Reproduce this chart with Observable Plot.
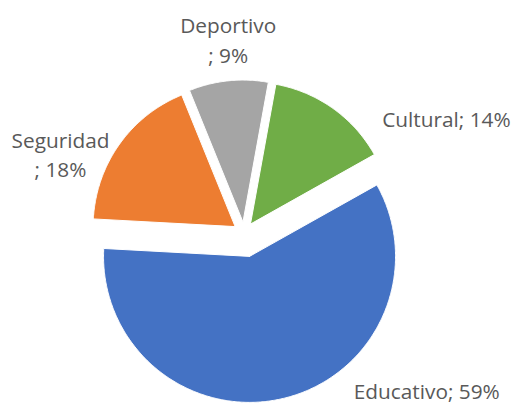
<!DOCTYPE html>
<html>
<head>
<meta charset="utf-8">
<script src="https://cdn.jsdelivr.net/npm/d3@7"></script>
<script src="https://cdn.jsdelivr.net/npm/@observablehq/plot@0.6"></script>
<style>
  html, body { margin: 0; padding: 0; background: #ffffff; }
  #chart { width: 513px; height: 405px; }
</style>
</head>
<body>
<div id="chart"></div>
<script>
// ---- data ----
const categories = ["Cultural", "Educativo", "Seguridad", "Deportivo"];
const percents = [14, 59, 18, 9];

// ---- styles / layout (kept apart from data) ----
const colors = ["#70AD47", "#4472C4", "#ED7D31", "#A5A5A5"];
const explodePx = [11, 24, 11, 11];     // explosion distance of each slice
const radiusPx = [142, 146, 142, 142];  // outer radius of each slice
const startDeg = 10.3;                  // angle of first slice (clockwise from 12 o'clock)
const labelPos = [                      // label block centre, offset from pie centre (y up)
  {x: 138.1, y: 112.2, anchor: "start"},
  {x: 109.7, y: -159.3, anchor: "start"},
  {x: -183.6, y: 79.8, anchor: "middle"},
  {x: -15.9, y: 194.2, anchor: "middle"}
];
const labelBreak = [false, false, true, true];

const W = 513, H = 405, CX = 243.6, CY = 232.5;

// ---- build slice polygons from data ----
const total = d3.sum(percents);
let acc = startDeg;
const slices = categories.map((name, i) => {
  const span = percents[i] / total * 360;
  const a0 = acc, a1 = acc + span;
  acc = a1;
  const mid = (a0 + a1) / 2 * Math.PI / 180;
  const ox = explodePx[i] * Math.sin(mid), oy = explodePx[i] * Math.cos(mid);
  const pts = [{x: ox, y: oy}];
  const n = Math.max(8, Math.ceil(span * 2));
  for (let k = 0; k <= n; k++) {
    const a = (a0 + (a1 - a0) * k / n) * Math.PI / 180;
    pts.push({x: ox + radiusPx[i] * Math.sin(a), y: oy + radiusPx[i] * Math.cos(a)});
  }
  pts.push({x: ox, y: oy});
  return {name, color: colors[i], pts};
});

const labels = categories.map((name, i) => ({
  text: name + (labelBreak[i] ? "\n; " : "; ") + percents[i] + "%",
  x: labelPos[i].x, y: labelPos[i].y, anchor: labelPos[i].anchor
}));

const textOpts = {
  x: "x", y: "y", text: "text",
  fontFamily: "Open Sans", fontSize: 20.8, fill: "#595959",
  lineAnchor: "middle"
};

const plot = Plot.plot({
  width: W, height: H, margin: 0,
  x: {domain: [-CX, W - CX], axis: null},
  y: {domain: [CY - H, CY], axis: null},
  style: {background: "#ffffff"},
  marks: [
    ...slices.map(s => Plot.line(s.pts, {x: "x", y: "y", fill: s.color, stroke: "#ffffff", strokeWidth: 1})),
    Plot.text(labels.filter(d => d.anchor === "middle"), {...textOpts, textAnchor: "middle", lineHeight: 1.42}),
    Plot.text(labels.filter(d => d.anchor === "start"), {...textOpts, textAnchor: "start", lineHeight: 1})
  ]
});
document.getElementById("chart").appendChild(plot);
</script>
</body>
</html>
